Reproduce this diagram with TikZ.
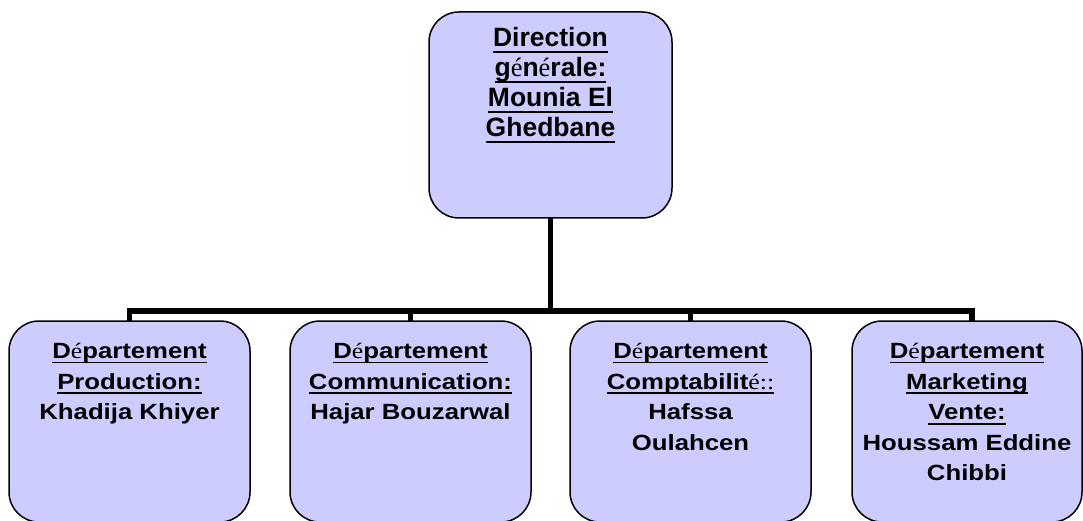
\documentclass[tikz,border=0pt]{standalone}
\usepackage{fontspec}
\setmainfont{Liberation Sans}
\newfontfamily\serE{Liberation Serif}
\newfontfamily\botsans{Liberation Sans}[FakeStretch=1.17]
\newfontfamily\botserE{Liberation Serif}[FakeStretch=1.17]
\definecolor{boxfill}{RGB}{204,204,255}
\newcommand\Et[1]{{\serE\mdseries #1}}
\newcommand\Eb[1]{{\botserE\mdseries #1}}
\newlength\uldp
\newlength\ulth
\setlength\ulth{1.9pt}
\newcommand\ul[1]{\leavevmode\setbox0=\hbox{#1}\rlap{\rule[-\dimexpr\uldp+\ulth\relax]{\wd0}{\ulth}}\box0}
\newcommand\botbox[2]{\parbox[c][201pt][t]{#1}{\centering\botsans\fontsize{22}{30.6}\selectfont\bfseries\setlength\uldp{3pt}\rule{0pt}{37.5pt}#2}}
\tikzset{
  orgbox/.style={draw=black, line width=1.5pt, fill=boxfill, rounded corners=30pt, inner sep=0pt, outer sep=0pt},
  conn/.style={draw=black, line width=5.5pt}
}
\begin{document}
\begin{tikzpicture}[x=1pt,y=1pt]
\useasboundingbox (0,0) rectangle (1083,520);
\node[orgbox] (top) at (550.5,405) {\parbox[c][206pt][t]{243pt}{\centering\fontsize{26.5}{30}\selectfont\bfseries\setlength\uldp{4.5pt}\rule{0pt}{35pt}\ul{Direction}\\ \ul{g\Et{é}n\Et{é}rale:}\\ \ul{Mounia El}\\ \ul{Ghedbane}}};
\node[orgbox] (b1) at (129.5,98.5) {\botbox{241pt}{\ul{D\Eb{é}partement}\\ \ul{Production:}\\ Khadija Khiyer}};
\node[orgbox] (b2) at (410.5,98.5) {\botbox{241pt}{\ul{D\Eb{é}partement}\\ \ul{Communication:}\\ Hajar Bouzarwal}};
\node[orgbox] (b3) at (690.5,98.5) {\botbox{241pt}{\ul{D\Eb{é}partement}\\ \ul{Comptabilit\Eb{é::}}\\ Hafssa\\ Oulahcen}};
\node[orgbox] (b4) at (967,98.5) {\botbox{230pt}{\ul{D\Eb{é}partement}\\ \ul{Marketing}\\ \ul{Vente:}\\ Houssam Eddine\\ Chibbi}};
\coordinate (hub) at (550.5,209);
\draw[conn] (top.south) -- (hub);
\draw[conn] (b1.north) |- (hub);
\draw[conn] (b2.north) |- (hub);
\draw[conn] (b3.north) |- (hub);
\draw[conn] ([xshift=5pt]b4.north) |- (hub);
\end{tikzpicture}
\end{document}
